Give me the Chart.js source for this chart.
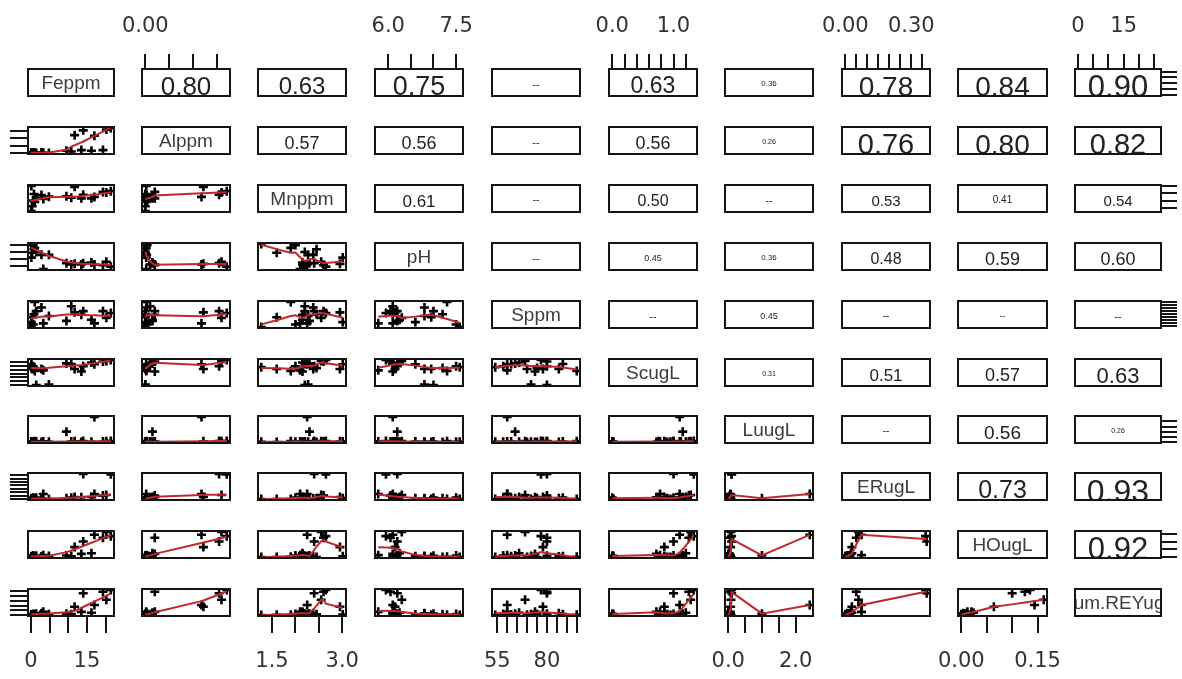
<!DOCTYPE html>
<html>
<head>
<meta charset="utf-8">
<script src="https://cdn.jsdelivr.net/npm/chart.js@4.4.1/dist/chart.umd.min.js"></script>
<style>
  html, body { margin: 0; padding: 0; background: #fff; }
  #grid { position: relative; width: 1182px; height: 679px; overflow: hidden; background: #fff; }
  #grid canvas { position: absolute; }
</style>
</head>
<body>
<div id="grid"></div>
<script>
// ---- sample measurements (one entry per sample) ----
const Feppm  = [0.05, 0.10, 0.30, 0.60, 0.80, 1.00, 1.40, 2.80, 3.30, 4.80, 9.50, 10.8, 11.7, 13.5, 14.0, 16.2, 17.0, 19.3, 20.2, 21.4];
const Alppm  = [0.000, 0.002, 0.000, 0.004, 0.000, 0.002, 0.000, 0.003, 0.002, 0.000, 0.015, 0.010, 0.122, 0.020, 0.155, 0.015, 0.118, 0.020, 0.160, 0.171];
const Mnppm  = [1.27, 3.01, 1.60, 2.00, 2.45, 1.90, 2.20, 2.38, 2.10, 2.27, 2.30, 2.20, 2.95, 2.15, 2.40, 2.15, 2.25, 2.60, 2.55, 2.65];
const pH     = [7.58, 6.60, 6.95, 7.50, 7.20, 7.30, 7.00, 6.80, 5.78, 6.80, 6.20, 6.10, 6.15, 6.10, 6.20, 6.25, 6.10, 6.05, 6.30, 5.95];
const Sppm   = [54, 62, 70, 58, 75, 95, 80, 86, 60, 72, 64, 88, 78, 74, 80, 66, 60, 80, 69, 77];
const ScugL  = [0.95, 1.10, 0.85, 1.00, 0.90, 0.75, 0.00, 0.85, 0.78, 0.02, 1.15, 1.12, 0.85, 0.72, 1.00, 1.20, 1.10, 1.25, 1.28, 1.33];
const LuugL  = [0.02, 0.05, 0.00, 0.03, 0.00, 0.08, 0.04, 0.00, 0.06, 0.02, 1.00, 0.05, 0.07, 0.00, 0.10, 0.03, 2.42, 0.05, 0.08, 0.10];
const ERugL  = [0.000, 0.010, 0.000, 0.020, 0.010, 0.000, 0.020, 0.010, 0.074, 0.000, 0.010, 0.020, 0.030, 0.025, 0.370, 0.030, 0.074, 0.050, 0.060, 0.365];
const HOugL  = [0.000, 0.005, 0.000, 0.010, 0.000, 0.002, 0.008, 0.004, 0.012, 0.006, 0.010, 0.005, 0.064, 0.020, 0.100, 0.024, 0.144, 0.125, 0.162, 0.135];
const SumREY = [0.10, 0.50, 0.30, 1.20, 0.80, 0.40, 1.50, 2.00, 3.40, 0.90, 1.50, 1.00, 8.70, 3.40, 22.8, 2.50, 10.5, 24.4, 16.0, 26.2];

const varNames = ['Feppm', 'Alppm', 'Mnppm', 'pH', 'Sppm', 'ScugL', 'LuugL', 'ERugL', 'HOugL', 'Sum.REYugL'];
const series = [Feppm, Alppm, Mnppm, pH, Sppm, ScugL, LuugL, ERugL, HOugL, SumREY];

// axis tick positions and the labels printed at them ('' = tick mark only)
const tickValues = [
  [0, 5, 10, 15, 20],
  [0, 0.05, 0.10, 0.15],
  [1.5, 2.0, 2.5, 3.0],
  [6.0, 6.5, 7.0, 7.5],
  [55, 60, 65, 70, 75, 80, 85, 90, 95],
  [0, 0.2, 0.4, 0.6, 0.8, 1.0, 1.2],
  [0, 0.5, 1.0, 1.5, 2.0],
  [0, 0.05, 0.10, 0.15, 0.20, 0.25, 0.30, 0.35],
  [0, 0.05, 0.10, 0.15],
  [0, 5, 10, 15, 20, 25]
];
const tickLabels = [
  ['0', '', '', '15', ''],
  ['0.00', '', '', ''],
  ['1.5', '', '', '3.0'],
  ['6.0', '', '', '7.5'],
  ['55', '', '', '', '', '80', '', '', ''],
  ['0.0', '', '', '', '', '1.0', ''],
  ['0.0', '', '', '', '2.0'],
  ['0.00', '', '', '', '', '', '0.30', ''],
  ['0.00', '', '', '0.15'],
  ['0', '', '', '15', '', '']
];

// correlation printed in the upper panels (row, column)
const corText = [
  [null, '0.80', '0.63', '0.75', '--', '0.63', '0.36', '0.78', '0.84', '0.90'],
  [null, null, '0.57', '0.56', '--', '0.56', '0.26', '0.76', '0.80', '0.82'],
  [null, null, null, '0.61', '--', '0.50', '--', '0.53', '0.41', '0.54'],
  [null, null, null, null, '--', '0.45', '0.36', '0.48', '0.59', '0.60'],
  [null, null, null, null, null, '--', '0.45', '--', '--', '--'],
  [null, null, null, null, null, null, '0.31', '0.51', '0.57', '0.63'],
  [null, null, null, null, null, null, null, '--', '0.56', '0.26'],
  [null, null, null, null, null, null, null, null, '0.73', '0.93'],
  [null, null, null, null, null, null, null, null, null, '0.92']
];

// ---- presentation ----
const corFontPx = [
  [0, 26, 24, 27, 11, 23, 8, 28, 28, 31],
  [0, 0, 18, 18, 11, 18, 7, 29, 28, 29],
  [0, 0, 0, 17, 10, 16, 11, 15, 10, 15],
  [0, 0, 0, 0, 11, 9, 8, 16, 18, 18],
  [0, 0, 0, 0, 0, 11, 9, 10, 9, 11],
  [0, 0, 0, 0, 0, 0, 7, 17, 18, 22],
  [0, 0, 0, 0, 0, 0, 0, 10, 19, 7],
  [0, 0, 0, 0, 0, 0, 0, 0, 25, 32],
  [0, 0, 0, 0, 0, 0, 0, 0, 0, 31]
];
const colLeft  = [28, 142, 258, 375, 492, 609, 725, 842, 958, 1075];
const colRight = [114, 230, 346, 463, 580, 697, 813, 930, 1047, 1161];
const rowTop   = [69, 127, 185, 243, 301, 359, 416, 473, 531, 589];
const PANEL_H = 27;
const MX = 50, MY = 64;      // canvas margin around each panel box
const AXH = 60, AXW = 20;    // room taken by an outer axis
const SMOOTH = '#c0282c';
const TEXT_FONT = '"Liberation Sans", Arial, sans-serif';

// R-style lowess smoother (f = 2/3, three robustness passes)
function lowess(xIn, yIn, f = 2 / 3, iter = 3) {
  const n = xIn.length;
  const ord = xIn.map((_, i) => i).sort((a, b) => xIn[a] - xIn[b]);
  const x = ord.map(i => xIn[i]), y = ord.map(i => yIn[i]);
  const delta = 0.01 * (x[n - 1] - x[0]);
  const ns = Math.max(2, Math.min(n, Math.floor(f * n + 1e-7)));
  const ys = new Array(n).fill(0), rw = new Array(n).fill(1), res = new Array(n).fill(0);
  const w = new Array(n).fill(0);

  function lowest(xs, nleft, nright, userw) {
    const range = x[n - 1] - x[0];
    const h = Math.max(xs - x[nleft], x[nright] - xs);
    const h9 = 0.999 * h, h1 = 0.001 * h;
    let a = 0, j = nleft;
    while (j < n) {
      w[j] = 0;
      const r = Math.abs(x[j] - xs);
      if (r <= h9) {
        w[j] = r <= h1 ? 1 : Math.pow(1 - Math.pow(r / h, 3), 3);
        if (userw) w[j] *= rw[j];
        a += w[j];
      } else if (x[j] > xs) break;
      j++;
    }
    const nrt = j - 1;
    if (a <= 0) return null;
    for (j = nleft; j <= nrt; j++) w[j] /= a;
    if (h > 0) {
      a = 0;
      for (j = nleft; j <= nrt; j++) a += w[j] * x[j];
      let b = xs - a, c = 0;
      for (j = nleft; j <= nrt; j++) c += w[j] * (x[j] - a) * (x[j] - a);
      if (Math.sqrt(c) > 0.001 * range) {
        b /= c;
        for (j = nleft; j <= nrt; j++) w[j] *= (b * (x[j] - a) + 1);
      }
    }
    let out = 0;
    for (j = nleft; j <= nrt; j++) out += w[j] * y[j];
    return out;
  }

  for (let pass = 1; pass <= iter + 1; pass++) {
    let nleft = 0, nright = ns - 1, last = -1, i = 0;
    for (;;) {
      if (nright < n - 1) {
        const d1 = x[i] - x[nleft], d2 = x[nright + 1] - x[i];
        if (d1 > d2) { nleft++; nright++; continue; }
      }
      const fit = lowest(x[i], nleft, nright, pass > 1);
      ys[i] = fit === null ? y[i] : fit;
      if (last < i - 1) {
        const denom = x[i] - x[last];
        for (let j = last + 1; j < i; j++) {
          const alpha = (x[j] - x[last]) / denom;
          ys[j] = alpha * ys[i] + (1 - alpha) * ys[last];
        }
      }
      last = i;
      const cut = x[last] + delta;
      for (i = last + 1; i < n; i++) {
        if (x[i] > cut) break;
        if (x[i] === x[last]) { ys[i] = ys[last]; last = i; }
      }
      i = Math.max(last + 1, i - 1);
      if (last >= n - 1) break;
    }
    let sc = 0;
    for (let k = 0; k < n; k++) { res[k] = y[k] - ys[k]; sc += Math.abs(res[k]); }
    sc /= n;
    if (pass > iter) break;
    const sorted = res.map(Math.abs).sort((a, b) => a - b);
    const m1 = Math.floor(n / 2);
    const cmad = n % 2 === 0 ? 3 * (sorted[m1] + sorted[m1 - 1]) : 6 * sorted[m1];
    if (cmad < 1e-7 * sc) break;
    const c9 = 0.999 * cmad, c1 = 0.001 * cmad;
    for (let k = 0; k < n; k++) {
      const r = Math.abs(res[k]);
      rw[k] = r <= c1 ? 1 : r <= c9 ? Math.pow(1 - Math.pow(r / cmad, 2), 2) : 0;
    }
  }
  return x.map((xv, k) => ({ x: xv, y: ys[k] }));
}

function paddedRange(arr) {
  const lo = Math.min(...arr), hi = Math.max(...arr), r = hi - lo;
  return [lo - 0.04 * r, hi + 0.04 * r];
}

// frame around every panel, plus the label / correlation text
const panelDecor = {
  id: 'panelDecor',
  afterDatasetsDraw(chart, args, opts) {
    const { ctx, chartArea: a } = chart;
    if (opts.text) {
      ctx.save();
      ctx.beginPath();
      ctx.rect(a.left, a.top, a.right - a.left, a.bottom - a.top);
      ctx.clip();
      ctx.font = `${opts.size}px ${TEXT_FONT}`;
      ctx.fillStyle = opts.color;
      ctx.textAlign = 'center';
      ctx.textBaseline = 'alphabetic';
      const cy = (a.top + a.bottom) / 2 + opts.shift * opts.size;
      ctx.fillText(opts.text, (a.left + a.right) / 2, cy + 0.358 * opts.size);
      ctx.restore();
    }
    ctx.save();
    ctx.strokeStyle = '#151515';
    ctx.lineWidth = 2;
    ctx.strokeRect(a.left, a.top, a.right - a.left, a.bottom - a.top);
    ctx.restore();
  }
};

function axisOptions(v, pos, horizontal, range) {
  const tickLen = pos === 'top' ? 15 : pos === 'bottom' ? 17 : pos === 'left' ? 18 : 16;
  return {
    type: 'linear',
    min: range[0],
    max: range[1],
    display: pos !== null,
    position: pos || (horizontal ? 'bottom' : 'left'),
    afterBuildTicks: s => { s.ticks = tickValues[v].map(value => ({ value })); },
    afterFit: s => {
      if (pos === null) return;
      if (horizontal) s.height = AXH; else s.width = AXW;
    },
    grid: { display: true, drawOnChartArea: false, drawTicks: true, tickLength: tickLen, color: '#151515', lineWidth: 2 },
    border: { display: false },
    ticks: {
      display: horizontal,
      autoSkip: false,
      maxRotation: 0,
      minRotation: 0,
      padding: horizontal && pos === 'top' ? 15 : 16,
      color: '#333',
      font: { family: 'DejaVu Sans', size: 21 },
      callback: (value, idx) => tickLabels[v][idx] ?? ''
    }
  };
}

const root = document.getElementById('grid');

function buildPanel(i, j) {
  const w = colRight[j] - colLeft[j];
  const cv = document.createElement('canvas');
  cv.width = w + 2 * MX;
  cv.height = PANEL_H + 2 * MY;
  cv.style.left = (colLeft[j] - MX) + 'px';
  cv.style.top = (rowTop[i] - MY) + 'px';
  root.appendChild(cv);

  const xPos = (i === 0 && j % 2 === 1) ? 'top' : (i === 9 && j % 2 === 0) ? 'bottom' : null;
  const yPos = (j === 0 && i % 2 === 1) ? 'left' : (j === 9 && i % 2 === 0) ? 'right' : null;

  const datasets = [];
  let decor = { text: null };
  if (i > j) {
    const pts = series[j].map((xv, k) => ({ x: xv, y: series[i][k] }));
    datasets.push({
      data: lowess(series[j], series[i]),
      showLine: true, pointRadius: 0, borderColor: SMOOTH, borderWidth: 2,
      order: 0, clip: 0
    });
    datasets.push({
      data: pts,
      pointStyle: 'cross', pointRadius: 4.5, pointBorderWidth: 2.6,
      pointBorderColor: '#000', borderColor: '#000', order: 1, clip: 0
    });
  } else if (i === j) {
    decor = { text: varNames[i], size: 19, color: '#3c3c3c', shift: 0 };
  } else {
    decor = { text: corText[i][j], size: corFontPx[i][j], color: '#222', shift: 0.12 };
  }

  new Chart(cv, {
    type: 'scatter',
    data: { datasets },
    options: {
      responsive: false,
      animation: false,
      devicePixelRatio: 1,
      events: [],
      layout: {
        padding: {
          left: MX - (yPos === 'left' ? AXW : 0),
          right: MX - (yPos === 'right' ? AXW : 0),
          top: MY - (xPos === 'top' ? AXH : 0),
          bottom: MY - (xPos === 'bottom' ? AXH : 0)
        }
      },
      scales: {
        x: axisOptions(j, xPos, true, paddedRange(series[j])),
        y: axisOptions(i, yPos, false, paddedRange(series[i]))
      },
      plugins: {
        legend: { display: false },
        tooltip: { enabled: false },
        panelDecor: decor
      }
    },
    plugins: [panelDecor]
  });
}

for (let i = 0; i < 10; i++) {
  for (let j = 0; j < 10; j++) buildPanel(i, j);
}
</script>
</body>
</html>
